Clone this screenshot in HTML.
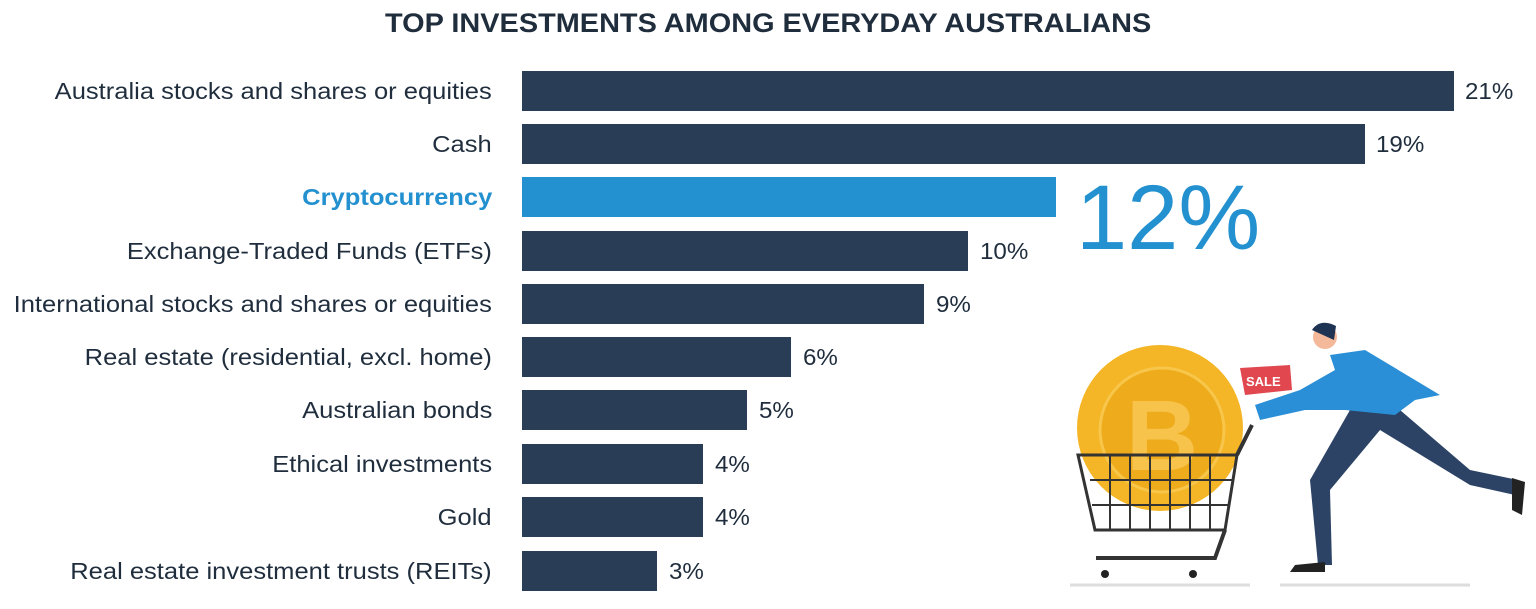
<!DOCTYPE html>
<html><head><style>
body{margin:0;width:1536px;height:609px;background:#fff;overflow:hidden;font-family:"Liberation Sans",sans-serif;position:relative}
.t{position:absolute;top:8px;left:0;width:1536px;text-align:center;font-weight:bold;font-size:27px;color:#1f2d3d;transform:scaleX(1.07);transform-origin:766px 0}
.l{position:absolute;right:1044px;font-size:23px;color:#1f2d3d;white-space:nowrap;line-height:40px;transform:scaleX(1.11);transform-origin:right center}
.b{position:absolute;left:522px;height:40px;background:#2a3d56}
.v{position:absolute;font-size:23px;color:#1f2d3d;line-height:40px;transform:scaleX(1.05);transform-origin:left center}
</style></head><body>
<div class="t">TOP INVESTMENTS AMONG EVERYDAY AUSTRALIANS</div>
<div class="l" style="top:71px">Australia stocks and shares or equities</div><div class="b" style="top:71px;width:932px"></div><div class="v" style="top:71px;left:1465px">21%</div>
<div class="l" style="top:124px">Cash</div><div class="b" style="top:124px;width:843px"></div><div class="v" style="top:124px;left:1376px">19%</div>
<div class="l" style="top:177px;color:#2390d0;font-weight:bold">Cryptocurrency</div><div class="b" style="top:177px;width:534px;background:#2390d0"></div>
<div style="position:absolute;left:1076px;top:168px;font-size:92px;color:#2390d0;line-height:100px">12%</div>
<div class="l" style="top:231px">Exchange-Traded Funds (ETFs)</div><div class="b" style="top:231px;width:446px"></div><div class="v" style="top:231px;left:980px">10%</div>
<div class="l" style="top:284px">International stocks and shares or equities</div><div class="b" style="top:284px;width:402px"></div><div class="v" style="top:284px;left:936px">9%</div>
<div class="l" style="top:337px">Real estate (residential, excl. home)</div><div class="b" style="top:337px;width:269px"></div><div class="v" style="top:337px;left:803px">6%</div>
<div class="l" style="top:390px">Australian bonds</div><div class="b" style="top:390px;width:225px"></div><div class="v" style="top:390px;left:759px">5%</div>
<div class="l" style="top:444px">Ethical investments</div><div class="b" style="top:444px;width:181px"></div><div class="v" style="top:444px;left:715px">4%</div>
<div class="l" style="top:497px">Gold</div><div class="b" style="top:497px;width:181px"></div><div class="v" style="top:497px;left:715px">4%</div>
<div class="l" style="top:551px">Real estate investment trusts (REITs)</div><div class="b" style="top:551px;width:135px"></div><div class="v" style="top:551px;left:669px">3%</div>
<svg style="position:absolute;left:0;top:0" width="1536" height="609">
<line x1="1070" y1="585" x2="1250" y2="585" stroke="#ddd" stroke-width="3"/>
<line x1="1280" y1="585" x2="1470" y2="585" stroke="#ddd" stroke-width="3"/>
<circle cx="1160" cy="428" r="83" fill="#f4b526"/>
<circle cx="1162" cy="430" r="62" fill="#eeac1c" stroke="#f7c64a" stroke-width="3"/>
<text x="1162" y="470" text-anchor="middle" font-family="Liberation Sans" font-weight="bold" font-size="100" fill="#f7c34a">B</text>
<path d="M1078 455 H1237 L1225 530 H1095 Z" fill="none" stroke="#333" stroke-width="3"/>
<path d="M1090 480H1232M1092 505H1228M1110 455V530M1130 455V530M1150 455V530M1170 455V530M1190 455V530M1210 455V530" stroke="#333" stroke-width="2"/>
<path d="M1237 455 L1252 425 M1225 530 L1215 558 H1096" fill="none" stroke="#333" stroke-width="4"/>
<circle cx="1105" cy="574" r="4" fill="#222"/><circle cx="1193" cy="574" r="4" fill="#222"/>
<path d="M1240 368 L1290 365 L1292 390 L1245 395 Z" fill="#e0474f"/>
<text x="1246" y="386" font-family="Liberation Sans" font-weight="bold" font-size="13" fill="#fff">SALE</text>
<path d="M1350 410 L1310 480 L1318 565 L1332 565 L1330 490 L1380 430 L1470 485 L1515 495 L1518 480 L1470 470 L1400 410 Z" fill="#2c4366"/>
<path d="M1295 565 L1325 562 L1325 572 L1290 572 Z" fill="#222"/>
<path d="M1512 478 L1525 482 L1522 515 L1512 510 Z" fill="#222"/>
<path d="M1330 355 L1365 350 L1440 395 L1415 400 L1395 415 L1345 410 L1305 410 L1260 420 L1255 405 L1300 390 L1335 370 Z" fill="#2a8fd6"/>
<circle cx="1325" cy="337" r="12" fill="#f4b89a"/>
<path d="M1312 330 Q1320 318 1336 326 L1334 340 Z" fill="#1f3352"/>
</svg>
</body></html>
